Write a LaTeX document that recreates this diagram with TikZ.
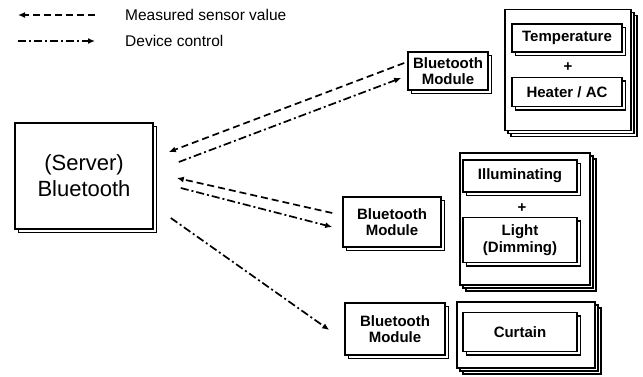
\documentclass[tikz,border=0pt]{standalone}
\usepackage{fontspec}
\setmainfont{Liberation Sans}
\usetikzlibrary{shadows,arrows.meta,calc}
\begin{document}
\begin{tikzpicture}[x=1pt,y=1pt,
  box/.style={draw, line width=1.6pt, fill=white, rectangle, inner sep=0pt,
    copy shadow={shadow xshift=3.5pt, shadow yshift=-3.5pt, draw, line width=1.6pt, fill=white}},
  outer/.style={draw, line width=1.6pt, fill=white, rectangle, inner sep=0pt,
    double copy shadow={shadow xshift=3pt, shadow yshift=-3pt, draw, line width=1.6pt, fill=white}},
  modtxt/.style={font=\fontsize{15}{16}\selectfont\bfseries, align=center},
  devtxt/.style={font=\fontsize{15}{17}\selectfont\bfseries, align=center},
  sensor/.style={dash pattern=on 7pt off 4pt, line width=1.7pt, -{Latex[length=7pt,width=6pt]}},
  control/.style={dash pattern=on 8pt off 3pt on 2pt off 3pt, line width=1.7pt, -{Latex[length=7pt,width=6pt]}},
  lbl/.style={font=\fontsize{15.5}{16}\selectfont, anchor=west, inner sep=0pt}
]
\useasboundingbox (0,0) rectangle (643,377);

% legend
\coordinate (l1a) at (18,362);
\coordinate (l1b) at (95,362);
\coordinate (l2a) at (18,336);
\coordinate (l2b) at (95,336);
\draw[sensor] (l1b) -- (l1a);
\draw[control] (l2a) -- (l2b);
\node[lbl] (t1) at (125,362) {Measured sensor value};
\node[lbl] (t2) at (125,336) {Device control};

% server
\node[box, minimum width=138pt, minimum height=106pt, align=center,
  font=\fontsize{22}{26}\selectfont] (server) at (84,201) {(Server)\\Bluetooth};

% modules
\node[box, modtxt, minimum width=80pt, minimum height=38pt] (mod1) at (448,306) {Bluetooth\\Module};
\node[box, modtxt, minimum width=98pt, minimum height=50pt] (mod2) at (392,155) {Bluetooth\\Module};
\node[box, modtxt, minimum width=100pt, minimum height=52pt] (mod3) at (395,48) {Bluetooth\\Module};

% device groups
\node[outer, minimum width=126pt, minimum height=121pt] (out1) at (568,307) {};
\node[box, devtxt, minimum width=110pt, minimum height=28pt] (temp) at (567,339) {Temperature};
\node[font=\fontsize{15}{15}\selectfont\bfseries, inner sep=0pt] (plus1) at (568,310) {+};
\node[box, devtxt, minimum width=110pt, minimum height=29pt] (heat) at (567,285) {Heater / AC};

\node[outer, minimum width=130pt, minimum height=132pt] (out2) at (525,158) {};
\node[box, devtxt, minimum width=114pt, minimum height=32pt] (illu) at (520,201) {Illuminating};
\node[font=\fontsize{15}{15}\selectfont\bfseries, inner sep=0pt] (plus2) at (522,169) {+};
\node[box, devtxt, minimum width=114pt, minimum height=45pt] (light) at (520,137) {Light\\(Dimming)};

\node[outer, minimum width=138pt, minimum height=66pt] (out3) at (526,42) {};
\node[box, devtxt, minimum width=114pt, minimum height=39pt] (curt) at (520,45) {Curtain};

% connectors
\draw[sensor] ([shift={(-3,8)}]mod1.west) -- ([shift={(15,24)}]server.east);
\draw[control] ([shift={(25,14)}]server.east) -- ([shift={(-6,-7)}]mod1.west);
\draw[sensor] ([shift={(-10,9)}]mod2.west) -- ([shift={(23,-2)}]server.east);
\draw[control] ([shift={(27,-12)}]server.east) -- ([shift={(-10,-5)}]mod2.west);
\draw[control] ([shift={(17,-42)}]server.east) -- ([shift={(-15,-1)}]mod3.west);
\end{tikzpicture}
\end{document}
